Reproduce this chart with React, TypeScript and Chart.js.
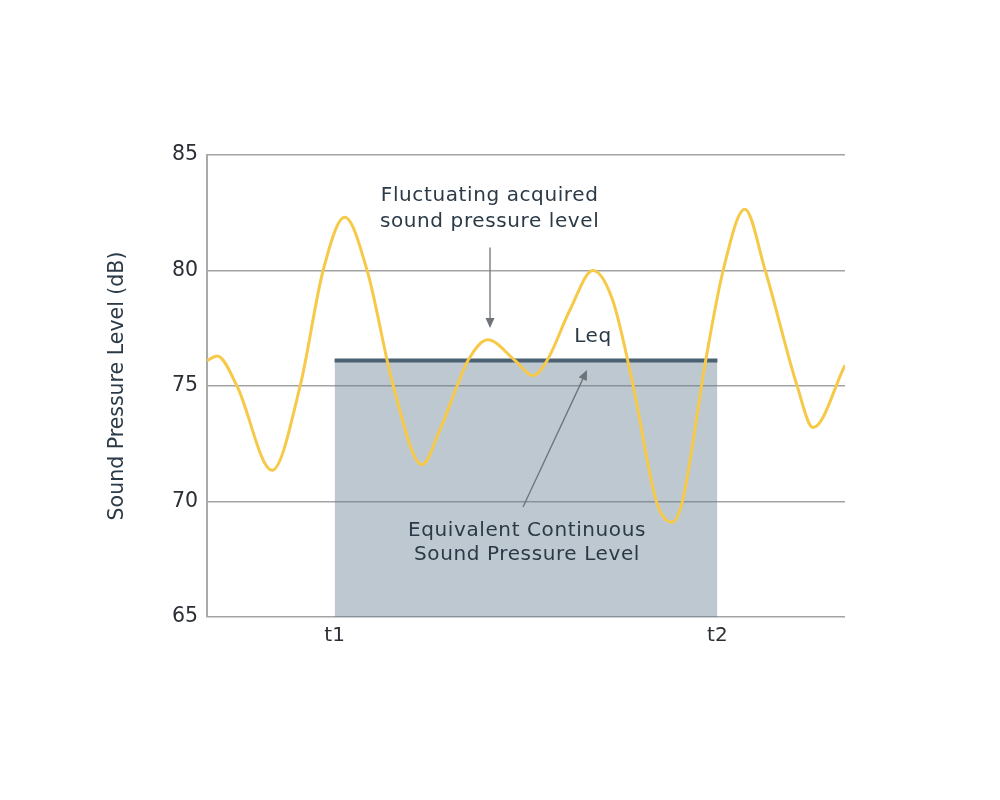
import React, { useEffect, useRef } from "react";
import { Chart, registerables } from "chart.js";

Chart.register(...registerables);

// Time axis (arbitrary units 0..100) and the fluctuating sound pressure level (dB)
const timeValues = [0, 1.6, 4.7, 10.2, 14.6, 18.2, 21.6, 25.1, 29.2, 33.7, 36.5, 39.2, 40.9, 44.0, 48.3, 51.1, 53.3, 56.9, 60.5, 63.6, 66.8, 70.5, 72.9, 74.5, 78.1, 80.9, 84.3, 87.5, 92.5, 95.0, 100];
const splValues = [76.1, 76.3, 75.0, 71.35, 75.0, 80.0, 82.3, 80.0, 75.0, 71.6, 73.1, 75.0, 76.1, 77.0, 76.1, 75.45, 76.1, 78.3, 80.0, 78.7, 75.0, 69.95, 69.1, 70.0, 76.0, 80.0, 82.65, 80.0, 75.0, 73.2, 75.9];

// Equivalent continuous level between t1 and t2
const leqTimes = [20, 80];
const leqValue = 76.1;

const xTickValues = [20, 80];
const xTickLabels = ["t1", "t2"];
const yMin = 65;
const yMax = 85;
const yStep = 5;

// Annotations (data coordinates)
const noteLabels = [
  { lines: ["Fluctuating acquired", "sound pressure level"], x: 44.3, y: [83.23, 82.1] },
  { lines: ["Leq"], x: 60.5, y: [77.12] },
  { lines: ["Equivalent Continuous", "Sound Pressure Level"], x: 50.16, y: [68.72, 67.68] },
];
const noteArrows = [
  { from: [44.36, 81.0], to: [44.36, 77.51] },
  { from: [49.53, 69.76], to: [59.56, 75.69] },
];

const FONT = "'DejaVu Sans', 'Open Sans', sans-serif";
const TEXT_COLOR = "#2b3a47";

const annotationPlugin = {
  id: "notes",
  afterDatasetsDraw(chart: any) {
    const { ctx, scales } = chart;
    const xs = scales.x;
    const ys = scales.y;
    ctx.save();
    // arrows
    ctx.strokeStyle = "#6c7379";
    ctx.fillStyle = "#6c7379";
    ctx.lineWidth = 1.3;
    noteArrows.forEach((a) => {
      const x1 = xs.getPixelForValue(a.from[0]);
      const y1 = ys.getPixelForValue(a.from[1]);
      const x2 = xs.getPixelForValue(a.to[0]);
      const y2 = ys.getPixelForValue(a.to[1]);
      const ang = Math.atan2(y2 - y1, x2 - x1);
      const headLen = 10;
      const headW = 4.5;
      const bx = x2 - headLen * Math.cos(ang);
      const by = y2 - headLen * Math.sin(ang);
      ctx.beginPath();
      ctx.moveTo(x1, y1);
      ctx.lineTo(bx, by);
      ctx.stroke();
      ctx.beginPath();
      ctx.moveTo(x2, y2);
      ctx.lineTo(bx + headW * Math.sin(ang), by - headW * Math.cos(ang));
      ctx.lineTo(bx - headW * Math.sin(ang), by + headW * Math.cos(ang));
      ctx.closePath();
      ctx.fill();
    });
    // labels
    ctx.fillStyle = TEXT_COLOR;
    ctx.font = `20px ${FONT}`;
    try { (ctx as any).letterSpacing = "0.6px"; } catch (e) {}
    ctx.textAlign = "center";
    ctx.textBaseline = "middle";
    noteLabels.forEach((n) => {
      n.lines.forEach((line, i) => {
        ctx.fillText(line, xs.getPixelForValue(n.x), ys.getPixelForValue(n.y[i]));
      });
    });
    try { (ctx as any).letterSpacing = "0px"; } catch (e) {}
    ctx.restore();
  },
};

export default function App() {
  const canvasRef = useRef<HTMLCanvasElement | null>(null);

  useEffect(() => {
    if (!canvasRef.current) return;
    const chart = new Chart(canvasRef.current, {
      type: "line",
      data: {
        datasets: [
          {
            label: "Sound pressure level",
            data: timeValues.map((t, i) => ({ x: t, y: splValues[i] })),
            borderColor: "#f7c948",
            borderWidth: 3,
            pointRadius: 0,
            cubicInterpolationMode: "monotone",
            fill: false,
            order: 0,
          },
          {
            label: "Leq",
            data: leqTimes.map((t) => ({ x: t, y: leqValue })),
            borderColor: "#4a6272",
            borderWidth: 4,
            backgroundColor: "rgba(98, 122, 142, 0.41)",
            fill: "start",
            pointRadius: 0,
            borderCapStyle: "butt",
            order: 1,
          },
        ],
      } as any,
      options: {
        responsive: false,
        animation: false,
        devicePixelRatio: 1,
        layout: { padding: { left: 98, right: 155, top: 155, bottom: 0 } },
        plugins: {
          legend: { display: false },
          tooltip: { enabled: false },
        },
        scales: {
          x: {
            type: "linear",
            min: 0,
            max: 100,
            grid: { display: false, drawTicks: false },
            border: { display: false },
            afterBuildTicks: (scale: any) => {
              scale.ticks = xTickValues.map((v) => ({ value: v }));
            },
            afterFit: (scale: any) => {
              scale.height = 183;
            },
            ticks: {
              padding: 7,
              color: "#2a2f35",
              font: { family: FONT, size: 20 },
              maxRotation: 0,
              autoSkip: false,
              callback: (v: any) => {
                const i = xTickValues.indexOf(Number(v));
                return i >= 0 ? xTickLabels[i] : "";
              },
            },
          },
          y: {
            min: yMin,
            max: yMax,
            grid: { color: "#a3a3a3", lineWidth: 1.5, drawTicks: false },
            border: { display: true, color: "#aaaaaa", width: 2 },
            afterFit: (scale: any) => {
              scale.width = 109;
            },
            ticks: {
              stepSize: yStep,
              padding: 9,
              color: "#2a2f35",
              font: { family: FONT, size: 20.5 },
            },
            title: {
              display: true,
              text: "Sound Pressure Level (dB)",
              color: TEXT_COLOR,
              font: { family: FONT, size: 20.5 },
              padding: { top: 7, bottom: 0 },
            },
          },
        },
      } as any,
      plugins: [annotationPlugin],
    });
    return () => chart.destroy();
  }, []);

  return (
    <div style={{ position: "absolute", left: 0, top: 0, width: 1000, height: 800, background: "#fff" }}>
      <canvas ref={canvasRef} width={1000} height={800} style={{ display: "block", width: 1000, height: 800 }} />
    </div>
  );
}
